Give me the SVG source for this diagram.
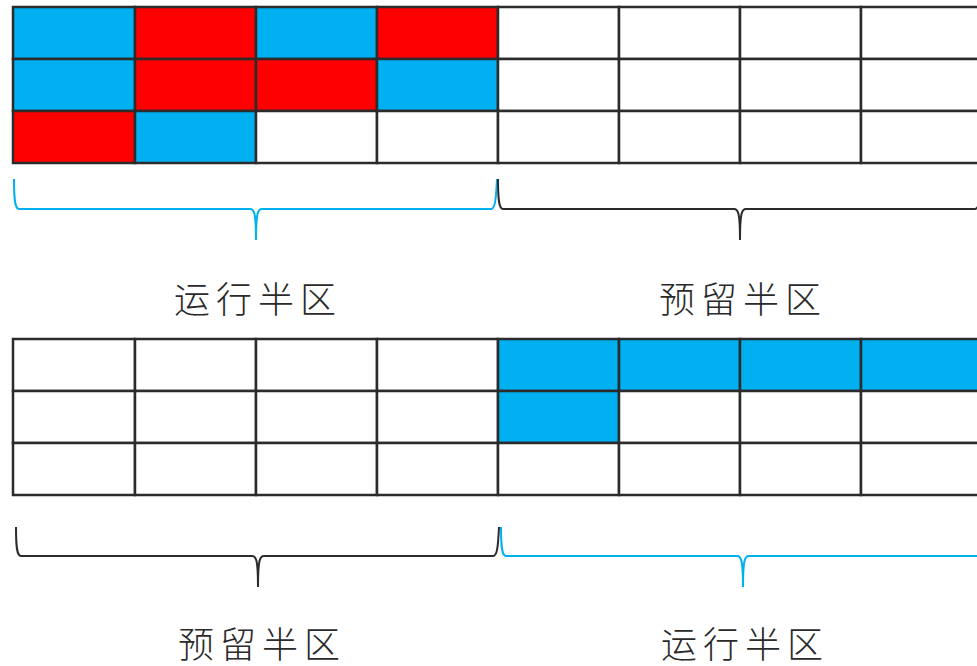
<svg xmlns="http://www.w3.org/2000/svg" width="977" height="666" viewBox="0 0 977 666">
<style>
.c{stroke:#2b2b2b;stroke-width:2.5}
.b{fill:#00B0F0}
.r{fill:#FF0000}
.w{fill:#FFFFFF}
.br{fill:none;stroke-width:2}
.lbl{font-family:"Noto Sans CJK SC","Noto Sans",sans-serif;font-weight:300;font-size:36px;letter-spacing:6px;fill:#2a2a2a}
</style>
<rect width="977" height="666" fill="#FFFFFF"/>
<g id="top-grid">
<rect class="c b" x="13" y="7" width="122" height="52"/>
<rect class="c r" x="135" y="7" width="121" height="52"/>
<rect class="c b" x="256" y="7" width="121" height="52"/>
<rect class="c r" x="377" y="7" width="121" height="52"/>
<rect class="c w" x="498" y="7" width="121" height="52"/>
<rect class="c w" x="619" y="7" width="121" height="52"/>
<rect class="c w" x="740" y="7" width="121" height="52"/>
<rect class="c w" x="861" y="7" width="121" height="52"/>
<rect class="c b" x="13" y="59" width="122" height="52"/>
<rect class="c r" x="135" y="59" width="121" height="52"/>
<rect class="c r" x="256" y="59" width="121" height="52"/>
<rect class="c b" x="377" y="59" width="121" height="52"/>
<rect class="c w" x="498" y="59" width="121" height="52"/>
<rect class="c w" x="619" y="59" width="121" height="52"/>
<rect class="c w" x="740" y="59" width="121" height="52"/>
<rect class="c w" x="861" y="59" width="121" height="52"/>
<rect class="c r" x="13" y="111" width="122" height="52"/>
<rect class="c b" x="135" y="111" width="121" height="52"/>
<rect class="c w" x="256" y="111" width="121" height="52"/>
<rect class="c w" x="377" y="111" width="121" height="52"/>
<rect class="c w" x="498" y="111" width="121" height="52"/>
<rect class="c w" x="619" y="111" width="121" height="52"/>
<rect class="c w" x="740" y="111" width="121" height="52"/>
<rect class="c w" x="861" y="111" width="121" height="52"/>
</g>
<g id="bottom-grid">
<rect class="c w" x="13" y="339" width="122" height="52"/>
<rect class="c w" x="135" y="339" width="121" height="52"/>
<rect class="c w" x="256" y="339" width="121" height="52"/>
<rect class="c w" x="377" y="339" width="121" height="52"/>
<rect class="c b" x="498" y="339" width="121" height="52"/>
<rect class="c b" x="619" y="339" width="121" height="52"/>
<rect class="c b" x="740" y="339" width="121" height="52"/>
<rect class="c b" x="861" y="339" width="121" height="52"/>
<rect class="c w" x="13" y="391" width="122" height="52"/>
<rect class="c w" x="135" y="391" width="121" height="52"/>
<rect class="c w" x="256" y="391" width="121" height="52"/>
<rect class="c w" x="377" y="391" width="121" height="52"/>
<rect class="c b" x="498" y="391" width="121" height="52"/>
<rect class="c w" x="619" y="391" width="121" height="52"/>
<rect class="c w" x="740" y="391" width="121" height="52"/>
<rect class="c w" x="861" y="391" width="121" height="52"/>
<rect class="c w" x="13" y="443" width="122" height="52"/>
<rect class="c w" x="135" y="443" width="121" height="52"/>
<rect class="c w" x="256" y="443" width="121" height="52"/>
<rect class="c w" x="377" y="443" width="121" height="52"/>
<rect class="c w" x="498" y="443" width="121" height="52"/>
<rect class="c w" x="619" y="443" width="121" height="52"/>
<rect class="c w" x="740" y="443" width="121" height="52"/>
<rect class="c w" x="861" y="443" width="121" height="52"/>
</g>
<g id="braces">
<path class="br" stroke="#00B0F0" d="M14,179 C14,200 15,209 19,209 L250,209 C254,209 256,212 256,240 C256,212 258,209 262,209 L491,209 C495,209 496,200 497,179"/>
<path class="br" stroke="#2b2b2b" d="M498,179 C498,200 499,209 503,209 L734,209 C738,209 740,212 740,240 C740,212 742,209 746,209 L975,209 C979,209 980,200 981,179"/>
<path class="br" stroke="#2b2b2b" d="M16,527 C16,548 17,556 21,556 L252,556 C256,556 258,559 258,587 C258,559 260,556 264,556 L493,556 C497,556 498,548 499,527"/>
<path class="br" stroke="#00B0F0" d="M501,527 C501,548 502,556 506,556 L737,556 C741,556 743,559 743,587 C743,559 745,556 749,556 L978,556 C982,556 983,548 984,527"/>
</g>
<g id="labels">
<text class="lbl" x="174" y="313">运行半区</text>
<text class="lbl" x="659" y="313">预留半区</text>
<text class="lbl" x="178" y="658">预留半区</text>
<text class="lbl" x="661" y="658">运行半区</text>
</g>
</svg>
